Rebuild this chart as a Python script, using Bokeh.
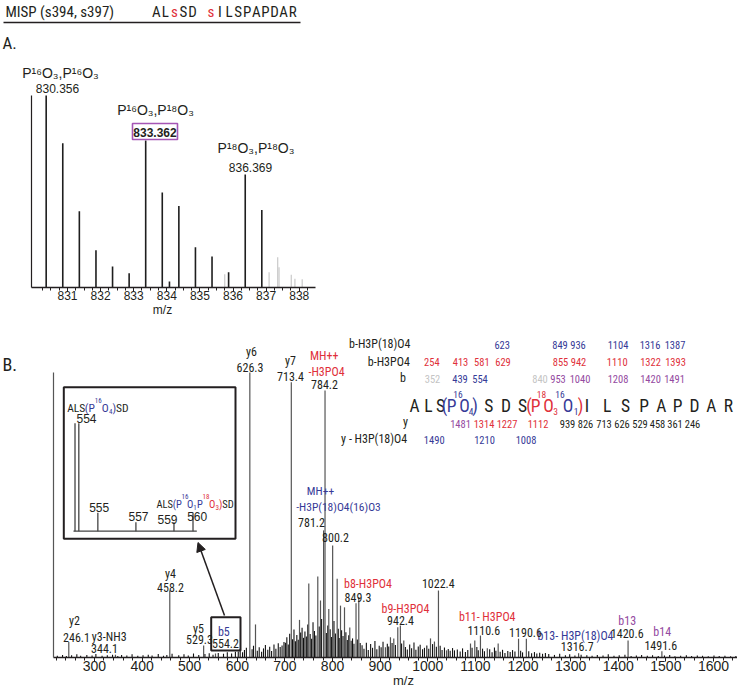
from bokeh.plotting import figure
from bokeh.models import Range1d, LinearAxis, FixedTicker, Arrow, NormalHead, ColumnDataSource
from bokeh.embed import file_html
from bokeh.resources import INLINE
from bokeh.core.properties import value

# ---------------- data ----------------
header_name = "MISP (s394, s397)"
header_residues = ["A", "L", "s", "S", "D", " ", "s", "I", "L", "S", "P", "A", "P", "D", "A", "R"]

# Panel A: isotope cluster (relative intensity, %)
a_mz = [830.356, 830.857, 831.358, 831.860, 832.361, 832.862, 833.362, 833.863,
        834.08, 834.364, 834.865, 835.366, 835.867, 836.369, 836.870]
a_int = [100, 75.1, 39.6, 19.3, 10.8, 7.3, 76.5, 49.4, 3.0, 42.4, 20.9, 16.0, 7.8, 58.8, 40.3]
a_faint_mz = [835.75, 837.09, 837.35, 837.39, 837.76, 837.87, 838.09]
a_faint_int = [6.8, 7.8, 15.6, 10.4, 6.5, 4.4, 4.2]
a_ticks = [831, 832, 833, 834, 835, 836, 837, 838]
a_peak_labels = ["830.356", "833.362", "836.369"]
a_species = ["P\u00b9\u2076O\u2083,P\u00b9\u2076O\u2083",
             "P\u00b9\u2076O\u2083,P\u00b9\u2078O\u2083",
             "P\u00b9\u2078O\u2083,P\u00b9\u2078O\u2083"]

# Panel B: MS/MS spectrum (relative intensity, %)
b_mz = [246.1, 344.1, 458.2, 529.3, 554.2, 626.3, 638.2, 713.4, 730.6, 750.1, 769.0, 774.7,
        781.2, 784.2, 792.1, 800.2, 809.7, 816.7, 825.1, 836.2, 849.3, 855.1, 911.0, 921.6,
        928.6, 937.0, 942.4, 949.6, 1005.7, 1014.0, 1022.4, 1039.3, 1089.7, 1098.7, 1110.6,
        1125.0, 1147.8, 1190.6, 1207.0, 1316.7, 1420.6, 1491.6]
b_int = [5.4, 1.0, 23.5, 4.2, 1.4, 100, 11.6, 96.6, 13.2, 26.0, 28.4, 20.0,
         44.6, 93.7, 17.0, 39.3, 27.6, 18.2, 17.6, 10.5, 19.0, 21.2, 3.6, 7.1,
         6.7, 10.6, 11.2, 6.0, 6.7, 5.6, 23.5, 2.5, 4.9, 6.0, 7.7,
         3.2, 4.9, 6.6, 6.6, 1.5, 6.0, 2.2]
noise_mz = [222, 233, 241, 252, 263, 271, 284, 295, 303, 316, 327, 338, 349, 357, 368, 379, 391,
            402, 413, 421, 434, 445, 452, 463, 477, 488, 497, 508, 519, 532, 541, 549, 560, 571,
            579, 588, 596,
            602, 606, 611, 615, 619, 631, 634, 642, 646, 651, 655, 659, 664, 668, 672, 677, 681,
            686, 690, 694, 698,
            701, 704, 707, 710, 716, 719, 722, 725, 728, 733, 736, 739, 742, 745, 748, 753, 756,
            759, 762, 765, 772, 777, 787, 790, 795, 798, 803, 806, 812, 814, 819, 822, 828, 831,
            834, 839, 842, 845, 852, 858,
            862, 866, 871, 875, 880, 884, 889, 893, 898, 902, 906, 915, 918, 925, 932, 945, 953,
            957, 962, 966, 971, 975, 980, 984, 989, 993, 998, 1002, 1010, 1018, 1026, 1030, 1035,
            1043, 1047, 1052, 1056,
            1062, 1068, 1073, 1079, 1084, 1093, 1103, 1106, 1115, 1119, 1130, 1135, 1140, 1143,
            1152, 1157, 1162, 1168, 1173, 1178, 1183, 1195, 1199, 1212, 1218, 1224, 1229, 1235,
            1241, 1247,
            1254, 1266, 1277, 1289, 1298, 1309, 1322, 1334, 1345, 1356, 1368, 1379, 1391, 1402,
            1414, 1427, 1438, 1449, 1461, 1472, 1484, 1497, 1508, 1519, 1531, 1543, 1554, 1566,
            1577, 1589, 1601, 1612, 1624, 1636, 1647]
noise_int = [0.6, 0.9, 0.5, 0.8, 1.1, 0.6, 0.9, 0.7, 1.2, 0.6, 0.8, 1.0, 0.5, 0.9, 0.7, 1.1, 0.6,
             0.8, 1.0, 0.7, 1.2, 0.6, 0.9, 1.3, 0.8, 1.1, 0.7, 1.4, 0.9, 1.2, 1.5, 1.0, 1.6, 1.3,
             1.8, 1.4, 2.0,
             2.1, 3.0, 1.8, 2.6, 3.4, 2.9, 4.1, 2.4, 3.6, 2.0, 3.2, 4.4, 2.7, 3.8, 2.3, 4.6, 3.1,
             5.0, 3.7, 4.2, 5.4,
             5.2, 7.1, 4.6, 8.3, 6.4, 9.8, 5.7, 7.9, 6.2, 8.8, 10.4, 6.9, 9.1, 7.4, 11.6, 8.2, 6.6,
             12.4, 9.3, 7.7, 10.9, 13.5, 8.6, 11.2, 9.9, 7.2, 12.8, 8.4, 10.1, 6.8, 9.6, 7.5, 8.9,
             6.1, 7.8, 5.9, 6.7, 4.8, 6.3, 5.1,
             4.3, 3.1, 5.2, 2.6, 4.7, 3.4, 5.8, 2.9, 4.1, 3.6, 5.5, 4.8, 3.9, 5.1, 4.4, 4.9, 3.7,
             2.8, 4.6, 3.2, 5.3, 2.7, 3.9, 4.5, 2.9, 3.4, 4.2, 3.1, 4.7, 3.8, 4.1, 2.6, 3.5,
             3.0, 2.4, 3.3, 2.5,
             2.8, 2.1, 3.2, 1.9, 2.6, 3.4, 3.7, 2.5, 3.1, 2.2, 2.9, 1.8, 3.5, 2.4,
             2.0, 2.7, 1.6, 2.3, 1.9, 2.6, 2.1, 2.4, 1.8, 2.2, 1.5, 1.9, 1.4, 1.7,
             1.3, 1.6,
             1.2, 0.9, 1.3, 0.8, 1.1, 0.7, 1.0, 0.8, 0.6, 0.9, 0.7, 1.1, 0.6, 0.8,
             1.0, 0.5, 0.7, 0.9, 0.6, 0.8, 0.5, 0.7, 0.9, 0.4, 0.6, 0.8, 0.5, 0.7,
             0.6, 0.4, 0.7, 0.5, 0.6, 0.4, 0.5]
b_ticks = [300, 400, 500, 600, 700, 800, 900, 1000, 1100, 1200, 1300, 1400, 1500, 1600]

# inset (zoom on the b5 cluster)
inset_mz = [553.8, 554.0, 555.0, 557.0, 559.0, 560.0]
inset_int = [100, 100, 17, 8.3, 8.3, 17]
inset_labels = ["554", "555", "557", "559", "560"]

# annotated ions
ion_names = ["y2", "y3-NH3", "y4", "y5", "b5", "y6", "y7", "b8-H3PO4", "b9-H3PO4",
             "b11- H3PO4", "b13- H3P(18)O4", "b13", "b14"]
ion_values = ["246.1", "344.1", "458.2", "529.3", "554.2", "626.3", "713.4", "849.3", "942.4",
              "1110.6", "1316.7", "1420.6", "1491.6"]
other_values = ["800.2", "1022.4", "1190.6"]
mh_red = ["MH++", "-H3PO4", "784.2"]
mh_blue = ["MH++", "-H3P(18)O4(16)O3", "781.2"]

# fragment table
row_names = ["b-H3P(18)O4", "b-H3PO4", "b", "y", "y - H3P(18)O4"]
row_b_h3p18 = ["623", "849", "936", "1104", "1316", "1387"]
row_b_h3po4 = ["254", "413", "581", "629", "855", "942", "1110", "1322", "1393"]
row_b = ["352", "439", "554", "840", "953", "1040", "1208", "1420", "1491"]
row_y = ["1481", "1314", "1227", "1112", "939", "826", "713", "626", "529", "458", "361", "246"]
row_y_h3p18 = ["1490", "1210", "1008"]

# ---------------- style ----------------
BLACK = "#231f20"
BLUE = "#363a97"
RED = "#e0303a"
PURPLE = "#944aa1"
GREY = "#c4c4c4"
COND = "Roboto Condensed, Open Sans Condensed, DejaVu Sans Condensed, Liberation Sans Narrow, Roboto"
SANS = "Liberation Sans"

# one canvas; default ranges are page pixels (y downwards)
p = figure(width=737, height=688, x_range=Range1d(0, 737), y_range=Range1d(688, 0),
           output_backend="svg", toolbar_location=None, min_border=0,
           x_axis_location=None, y_axis_location=None)
p.outline_line_color = None
p.grid.visible = False
p.extra_x_ranges = {"amz": Range1d(828.976, 851.24), "bmz": Range1d(102.7, 1650.4),
                    "imz": Range1d(549.885, 588.61)}
p.extra_y_ranges = {"aint": Range1d(-209.3, 149.56), "bint": Range1d(-10.88, 230.53),
                    "iint": Range1d(-145.65, 491.39)}


def put(xs, ys, texts, color=BLACK, size=12, font=COND, align="center", style="normal"):
    src = ColumnDataSource(dict(x=list(xs), y=list(ys), t=list(texts)))
    p.text(x="x", y="y", text="t", source=src,
           text_color=color, text_font=value(font), text_font_size=value(f"{size}px"),
           text_align=align, text_baseline="middle", text_font_style=style)


def x_axis(xr, yr, bounds, ticks, minor, size):
    ax = LinearAxis(x_range_name=xr, y_range_name=yr, fixed_location=0, bounds=bounds,
                    ticker=FixedTicker(ticks=ticks, minor_ticks=minor))
    ax.major_label_text_font = SANS
    ax.major_label_text_font_size = f"{size}px"
    ax.major_label_text_color = BLACK
    ax.major_label_standoff = 0
    ax.major_tick_in = 0
    ax.major_tick_out = 4
    ax.minor_tick_in = 0
    ax.minor_tick_out = 3
    ax.axis_line_color = BLACK
    ax.major_tick_line_color = BLACK
    ax.minor_tick_line_color = BLACK
    ax.axis_line_width = 1.3
    p.add_layout(ax, "below")


def y_axis(xr, yr, loc, color):
    ax = LinearAxis(x_range_name=xr, y_range_name=yr, fixed_location=loc, bounds=(0, 100),
                    ticker=FixedTicker(ticks=[]), major_tick_line_color=None,
                    minor_tick_line_color=None, major_label_text_color=None,
                    axis_line_color=color, axis_line_width=1.2)
    p.add_layout(ax, "left")


# ---------------- panel A ----------------
x_axis("amz", "aint", (829.91, 838.49), a_ticks, [830 + 0.25 * k for k in range(1, 34)], 12)
y_axis("amz", "aint", 829.91, BLACK)
p.segment(x0=a_faint_mz, y0=0, x1=a_faint_mz, y1=a_faint_int, x_range_name="amz",
          y_range_name="aint", line_color="#c9c9c9", line_width=1.2)
p.segment(x0=a_mz, y0=0, x1=a_mz, y1=a_int, x_range_name="amz", y_range_name="aint",
          line_color="#1e1e1e", line_width=1.6)
put([162], [309], ["m/z"], size=12, font=SANS)

# header
put([5], [11], [header_name], size=15, align="left")
for i, r in enumerate(header_residues):
    if r.strip():
        put([155.7 + 9.1 * i], [11], [r], color=RED if r == "s" else BLACK, size=15)
p.segment(x0=[3], y0=[22], x1=[300], y1=[22], line_color=BLACK, line_width=1.3)
put([2], [42], ["A."], size=17, align="left")

put([60, 155, 255.5], [72, 109, 147], a_species, size=14, font=SANS)
put([57, 250], [88, 167], [a_peak_labels[0], a_peak_labels[2]], size=12, font=SANS)
p.quad(left=[132], right=[177], top=[123], bottom=[139], fill_alpha=0,
       line_color="#a556b5", line_width=1.6)
put([154.5], [131.5], [a_peak_labels[1]], size=12, font=SANS, style="bold")

# ---------------- panel B ----------------
x_axis("bmz", "bint", (214, 1650.4), b_ticks, [220 + 20 * k for k in range(72)], 14)
y_axis("bmz", "bint", 214, "#555555")
p.segment(x0=noise_mz, y0=0, x1=noise_mz, y1=noise_int, x_range_name="bmz", y_range_name="bint",
          line_color="#111111", line_width=1.1)
p.segment(x0=b_mz, y0=0, x1=b_mz, y1=b_int, x_range_name="bmz", y_range_name="bint",
          line_color="#555555", line_width=1.2)
put([403], [680], ["m/z"], size=13, font=SANS)
put([2], [364], ["B."], size=18, align="left")

# inset
p.quad(left=[63.3], right=[235], top=[386.7], bottom=[538.3],
       fill_color="white", line_color=BLACK, line_width=2)
p.segment(x0=[553.72], y0=[0], x1=[560.2], y1=[0], x_range_name="imz", y_range_name="iint",
          line_color="#444444", line_width=1.3)
p.segment(x0=inset_mz, y0=0, x1=inset_mz, y1=inset_int, x_range_name="imz", y_range_name="iint",
          line_color="#444444", line_width=1.3)
put([86, 98.7, 138, 167, 196.7], [418, 506.7, 515.7, 519.3, 516], inset_labels, size=12, font=SANS)
# inset label 1: ALS(P16O4)SD
put([66.7], [407.5], ["ALS"], size=11.5, align="left")
put([84.3, 101.3, 112], [407.5] * 3, ["(P", "O", ")"], color=BLUE, size=11.5, align="left")
put([94.2], [400], ["16"], color=BLUE, size=7, align="left")
put([108.4], [411], ["4"], color=BLUE, size=7, align="left")
put([115.6], [407.5], ["SD"], size=11.5, align="left")
# inset label 2: ALS(P16O1P18O3)SD
put([156], [503.5], ["ALS"], size=10.5, align="left")
put([172.3, 186.5, 196.4], [503.5] * 3, ["(P", "O", "P"], color=BLUE, size=10.5, align="left")
put([181], [496], ["16"], color=BLUE, size=7, align="left")
put([192.8], [507], ["1"], color=BLUE, size=7, align="left")
put([208.5, 218.6], [503.5] * 2, ["O", ")"], color=RED, size=10.5, align="left")
put([202], [496], ["18"], color=RED, size=7, align="left")
put([215], [507], ["3"], color=RED, size=7, align="left")
put([221.8], [503.5], ["SD"], size=10.5, align="left")

# b5 box + arrow
p.quad(left=[210.7], right=[240], top=[616.7], bottom=[650], fill_alpha=0,
       line_color=BLACK, line_width=2)
p.add_layout(Arrow(end=NormalHead(size=9, fill_color=BLACK, line_color=BLACK),
                   x_start=224, y_start=615, x_end=197.5, y_end=542,
                   line_color=BLACK, line_width=1.5))

# ion labels
name_xy = [(74, 620), (108.7, 636.7), (170, 573.3), (198, 628.3), (223.3, 631.7), (251, 351.7),
           (290, 360.7), (367.5, 583), (405, 608.3), (486.7, 616.7), (575, 635), (626.7, 620),
           (661.7, 631.7)]
val_xy = [(76, 636.7), (104, 648.3), (170, 586.7), (199, 639.3), (225, 643.3), (249.5, 366.7),
          (290, 376), (357.5, 596.7), (400, 620), (483.3, 630), (576.7, 646), (626.7, 633.3),
          (660.3, 645)]
name_colors = [BLACK, BLACK, BLACK, BLACK, BLUE, BLACK, BLACK, RED, RED, RED, BLUE, PURPLE, PURPLE]
for nm, (nx, ny), col in zip(ion_names, name_xy, name_colors):
    put([nx], [ny], [nm], color=col, size=12)
put([v[0] for v in val_xy], [v[1] for v in val_xy], ion_values, size=12)
put([335, 437.8, 525], [537, 583.3, 632.3], other_values, size=12)
put([323.7, 326], [355, 371.5], mh_red[:2], color=RED, size=12)
put([324], [383.5], mh_red[2:], size=12)
put([320, 338], [490, 506.7], mh_blue[:2], color=BLUE, size=11.5)
put([311], [522.3], mh_blue[2:], size=12)

# fragment table
put([410, 409.3, 405.5, 407.5, 406.7], [343.3, 361.7, 377.5, 421.7, 438.3], row_names,
    size=12, align="right")
put([501.7, 559.5, 577.5, 617.5, 649.5, 674.5], [344.5] * 6, row_b_h3p18, color=BLUE, size=10.5)
put([431.3, 460, 481.3, 502.5, 560, 578, 616.7, 650, 675], [361.5] * 9, row_b_h3po4,
    color=RED, size=10.5)
b_cols = [GREY, BLUE, BLUE, GREY, PURPLE, PURPLE, PURPLE, PURPLE, PURPLE]
b_x = [432, 459.5, 479.5, 539.5, 557.5, 579.5, 617.5, 650, 674]
for t, x, c in zip(row_b, b_x, b_cols):
    put([x], [378.5], [t], color=c, size=10.5)
y_cols = [PURPLE, RED, RED, RED] + [BLACK] * 8
y_x = [460, 483.5, 506.5, 537.5, 567, 585, 603.5, 621.5, 639.5, 657, 674.5, 692]
for t, x, c in zip(row_y, y_x, y_cols):
    put([x], [423], [t], color=c, size=10.5)
put([433.7, 484, 525.5], [439.5] * 3, row_y_h3p18, color=BLUE, size=10.5)

# peptide sequence with phosphate labels
seq_main = [("A", 414, BLACK), ("L", 428, BLACK), ("S", 440, BLACK), ("(", 444, BLUE),
            ("P", 451, BLUE), ("O", 464, BLUE), (")", 474.5, BLUE), ("S", 488.3, BLACK),
            ("D", 505.5, BLACK), ("S", 522, BLACK), ("(", 528.5, RED), ("P", 535, RED),
            ("O", 548, RED), ("O", 567.5, BLUE), (")", 580, RED), ("I", 586.5, BLACK),
            ("L", 606.7, BLACK), ("S", 625, BLACK), ("P", 643.7, BLACK), ("A", 660.8, BLACK),
            ("P", 677, BLACK), ("D", 694, BLACK), ("A", 710.8, BLACK), ("R", 727.8, BLACK)]
for ch, x, c in seq_main:
    put([x], [405], [ch], color=c, size=17.5)
for ch, x, c in [("16", 457.5, BLUE), ("18", 541, RED), ("16", 559.5, BLUE)]:
    put([x], [394], [ch], color=c, size=9.5)
for ch, x, c in [("4", 470.5, BLUE), ("3", 555, RED), ("1", 575.5, BLUE)]:
    put([x], [411], [ch], color=c, size=9.5)

open("out.html", "w").write(file_html(p, INLINE))
